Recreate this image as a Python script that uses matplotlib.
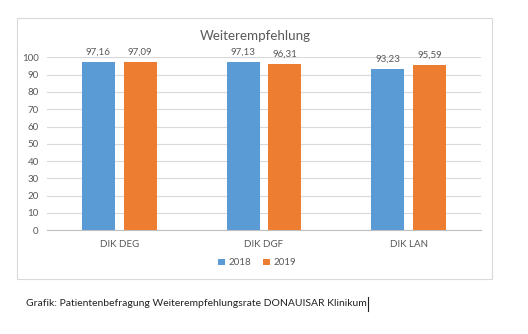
import numpy as np
import matplotlib.pyplot as plt
from matplotlib.patches import Rectangle
from matplotlib.lines import Line2D

# Data
categories = ["DIK DEG", "DIK DGF", "DIK LAN"]
values_2018 = [97.16, 97.13, 93.23]
values_2019 = [97.09, 96.31, 95.59]
series_names = ["2018", "2019"]
yticks = [0, 10, 20, 30, 40, 50, 60, 70, 80, 90, 100]

blue = "#5B9BD5"
orange = "#ED7D31"
grey_txt = "#595959"

plt.rcParams["font.family"] = ["Lato", "DejaVu Sans"]

fig = plt.figure(figsize=(5.28, 3.34), dpi=100, facecolor="white")

# chart frame (like the Office chart area)
fig.patches.append(Rectangle((0.032, 0.165), 0.900, 0.781, transform=fig.transFigure,
                             facecolor="none", edgecolor="#d9d9d9", linewidth=0.8, zorder=-1))

ax = fig.add_axes([0.089, 0.311, 0.822, 0.517])
ax.set_zorder(2)
ax.patch.set_alpha(0)
x = np.arange(len(categories))
w = 0.228
off = 0.145

b1 = ax.bar(x - off, values_2018, w, color=blue, label=series_names[0], zorder=3)
b2 = ax.bar(x + off, values_2019, w, color=orange, label=series_names[1], zorder=3)

for bars in (b1, b2):
    for rect in bars:
        h = rect.get_height()
        ax.annotate(f"{h:.2f}".replace(".", ","), (rect.get_x() + rect.get_width() / 2, h),
                    xytext=(0, 4), textcoords="offset points", ha="center", va="bottom",
                    fontsize=7, color=grey_txt)

ax.set_xlim(-0.5, 2.5)
ax.set_ylim(0, 100)
ax.set_yticks(yticks)
ax.set_xticks(x)
ax.set_xticklabels(categories)
ax.tick_params(axis="both", length=0, labelsize=7, colors=grey_txt)
ax.tick_params(axis="x", pad=7)
ax.tick_params(axis="y", pad=6)
ax.grid(axis="y", color="#d9d9d9", linewidth=0.8, zorder=0)
for s in ["top", "right", "left"]:
    ax.spines[s].set_visible(False)
ax.spines["bottom"].set_color("#bfbfbf")
ax.spines["bottom"].set_linewidth(0.8)

fig.text(0.483, 0.892, "Weiterempfehlung", ha="center", va="center", fontsize=9.6, color=grey_txt)

fig.legend(handles=[b1, b2], labels=series_names, loc="center", bbox_to_anchor=(0.487, 0.213),
           ncol=2, frameon=False, fontsize=7, handlelength=0.7, handleheight=0.7,
           handletextpad=0.4, columnspacing=1.2, labelcolor=grey_txt)

# caption below the chart, with the text cursor after it
cap = fig.text(0.049, 0.09, "Grafik: Patientenbefragung Weiterempfehlungsrate DONAUISAR Klinikum",
               ha="left", va="center", fontsize=7.5, color="#222222")
fig.canvas.draw()
bb = cap.get_window_extent().transformed(fig.transFigure.inverted())
fig.lines.append(Line2D([bb.x1 + 0.002, bb.x1 + 0.002], [0.068, 0.112], transform=fig.transFigure,
                        color="#222222", linewidth=0.8))

fig.savefig("out.png", dpi=100, facecolor="white")
